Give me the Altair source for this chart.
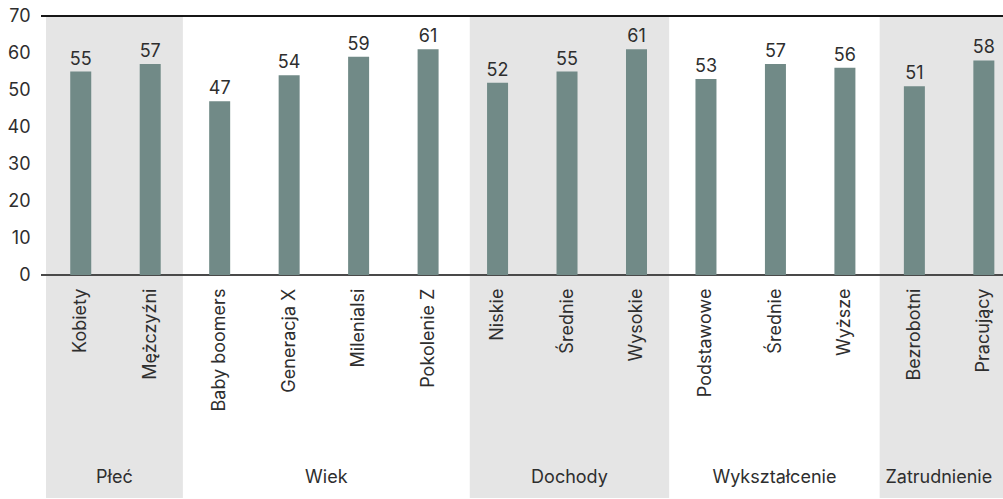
import altair as alt
import pandas as pd

# ---- data ----
categories = ["Kobiety", "Mężczyźni", "Baby boomers", "Generacja X", "Milenialsi",
              "Pokolenie Z", "Niskie", "Średnie", "Wysokie", "Podstawowe",
              "Średnie", "Wyższe", "Bezrobotni", "Pracujący"]
values = [55, 57, 47, 54, 59, 61, 52, 55, 61, 53, 57, 56, 51, 58]
groups = ["Płeć", "Wiek", "Dochody", "Wykształcenie", "Zatrudnienie"]
# group boundaries, in category slots
group_edges = [0, 1.97, 6.1, 8.97, 12.0, 14.0]
group_shaded = [True, False, True, False, True]
y_ticks = [0, 10, 20, 30, 40, 50, 60, 70]

# ---- layout ----
W, H = 962, 482
STEP = 70.2
X_MAX = W / STEP
PX_PER_UNIT = 259.1 / 70
Y_MIN = -(H - 259.1) / PX_PER_UNIT
FONT = "Inter"
FS = 18
TEXT = "#2e2e2e"

bars = pd.DataFrame({
    "pos": [i + 0.5 for i in range(len(categories))],
    "value": values,
    "label": [str(v) for v in values],
})

bands = pd.DataFrame({
    "group": groups,
    "start": group_edges[:-1],
    "end": group_edges[1:],
    "shaded": group_shaded,
})
bands["center"] = (bands["start"] + bands["end"].clip(upper=X_MAX)) / 2

xscale = alt.Scale(domain=[0, X_MAX], nice=False, zero=False)
yscale = alt.Scale(domain=[Y_MIN, 70], nice=False, zero=False)

label_expr = "[" + ",".join('"%s"' % c for c in categories) + "][floor(datum.value)]"

x_axis = alt.Axis(
    values=[i + 0.5 for i in range(len(categories))],
    labelExpr=label_expr, labelAngle=-90, labelFontSize=FS, labelFont=FONT,
    labelColor=TEXT, labelPadding=13, ticks=False, domain=False, grid=False,
    title=None, offset=-(H - 259.1), labelOverlap=False, labelFlush=False,
    labelBound=False, zindex=1)
y_axis = alt.Axis(
    values=y_ticks, labelFontSize=FS, labelFont=FONT, labelColor=TEXT,
    labelPadding=11, ticks=False, domain=False, grid=False, title=None)

band_layer = alt.Chart(bands).transform_filter("datum.shaded").mark_rect(
    color="#e5e5e5", clip=True
).encode(
    x=alt.X("start:Q", scale=xscale, axis=x_axis),
    x2="end:Q",
)

rule_top = alt.Chart(bands).mark_rule(color="#111111", strokeWidth=1.2).encode(
    y=alt.Y(datum=70, scale=yscale, axis=y_axis)
)
rule_zero = alt.Chart(bands).mark_rule(color="#4a4a4a", strokeWidth=1.6).encode(
    y=alt.Y(datum=0, scale=yscale, axis=y_axis)
)

bar_layer = alt.Chart(bars).mark_bar(size=21, color="#718a87").encode(
    x=alt.X("pos:Q", scale=xscale, axis=x_axis),
    y=alt.Y("value:Q", scale=yscale, axis=y_axis),
    y2=alt.Y2(datum=0),
)

value_text = alt.Chart(bars).mark_text(
    baseline="bottom", dy=-3, fontSize=FS, font=FONT, color=TEXT
).encode(
    x=alt.X("pos:Q", scale=xscale, axis=x_axis),
    y=alt.Y("value:Q", scale=yscale, axis=y_axis),
    text="label:N",
)

group_text = alt.Chart(bands).mark_text(
    baseline="middle", fontSize=FS, font=FONT, color=TEXT
).encode(
    x=alt.X("center:Q", scale=xscale, axis=x_axis),
    y=alt.Y(datum=-54.8, scale=yscale, axis=y_axis),
    text="group:N",
)

chart = alt.layer(band_layer, rule_top, rule_zero, bar_layer, value_text, group_text).properties(
    width=W, height=H, autosize="none",
    padding={"left": 41, "top": 16, "right": 0, "bottom": 1},
).configure_view(stroke=None)

chart.save("out.html", embed_options={"renderer": "svg", "actions": False})
